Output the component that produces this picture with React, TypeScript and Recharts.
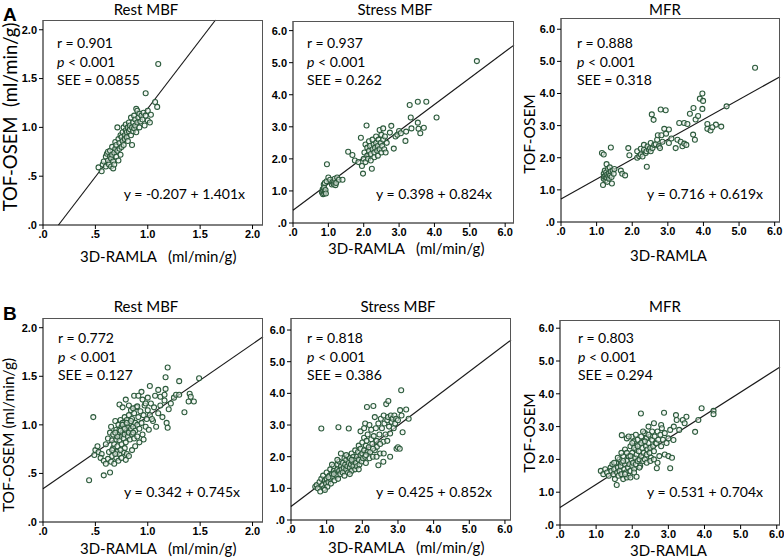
import React from 'react';
import { ScatterChart, Scatter, XAxis, YAxis, ReferenceLine } from 'recharts';

// [3D-RAMLA, TOF-OSEM] pairs
const restA: [number, number][] = [
  [0.53,0.59],[0.56,0.55],[0.57,0.62],[0.58,0.65],[0.6,0.6],[0.6,0.7],[0.61,0.73],[0.62,0.66],[0.62,0.75],[0.63,0.62],
  [0.64,0.7],[0.64,0.76],[0.65,0.68],[0.65,0.6],[0.66,0.72],[0.66,0.8],[0.67,0.65],[0.67,0.58],[0.68,0.74],[0.68,0.62],
  [0.69,0.78],[0.69,0.85],[0.7,0.7],[0.7,0.82],[0.71,1.0],[0.71,0.76],[0.72,0.88],[0.72,0.66],[0.73,0.78],[0.73,0.84],
  [0.74,0.92],[0.74,0.72],[0.75,0.8],[0.75,0.9],[0.76,0.86],[0.76,0.95],[0.77,0.82],[0.77,1.0],[0.78,0.92],[0.78,0.88],
  [0.79,0.97],[0.79,1.03],[0.8,0.9],[0.8,0.95],[0.81,1.0],[0.81,0.86],[0.82,1.05],[0.82,0.96],[0.83,0.98],[0.83,1.02],
  [0.84,0.92],[0.84,1.1],[0.85,0.82],[0.85,1.0],[0.86,1.05],[0.86,0.96],[0.87,1.12],[0.87,0.99],[0.88,1.02],[0.88,1.08],
  [0.89,1.19],[0.89,0.95],[0.9,1.17],[0.9,1.05],[0.91,1.1],[0.92,1.0],[0.92,1.14],[0.93,1.06],[0.94,1.12],[0.95,1.08],
  [0.96,1.15],[0.97,1.02],[0.98,1.35],[0.98,1.12],[1.0,1.07],[1.0,1.17],[1.02,1.05],[1.03,1.13],[1.07,1.26],[1.09,1.21],
  [1.10,1.65],
];

const stressA: [number, number][] = [
  [0.82,0.95],[0.84,1.05],[0.85,0.9],[0.86,1.0],[0.87,1.2],[0.88,0.92],[0.88,1.1],[0.9,0.98],[0.9,1.25],[0.92,1.03],
  [0.93,0.92],[0.95,1.3],[0.96,1.83],[1.0,1.42],[1.05,1.35],[1.1,1.2],[1.12,1.28],[1.15,1.22],[1.17,1.3],[1.18,1.38],
  [1.2,1.18],[1.22,1.25],[1.25,1.42],[1.3,1.35],[1.4,1.35],[1.56,2.22],[1.68,2.12],[1.75,1.95],[1.85,1.9],[1.92,2.66],
  [1.95,1.78],[1.98,1.54],[2.0,2.0],[2.02,2.2],[2.05,1.9],[2.05,2.45],[2.08,3.04],[2.1,2.1],[2.1,2.35],[2.12,2.0],
  [2.15,2.25],[2.15,2.55],[2.18,2.4],[2.2,2.15],[2.2,1.95],[2.23,1.69],[2.25,2.3],[2.25,2.6],[2.28,2.45],[2.3,2.2],
  [2.3,2.05],[2.32,2.35],[2.35,2.5],[2.35,2.7],[2.38,2.25],[2.4,2.4],[2.4,2.1],[2.42,2.6],[2.45,2.3],[2.45,2.9],
  [2.48,2.5],[2.5,2.2],[2.5,2.75],[2.52,2.4],[2.55,2.6],[2.55,2.95],[2.58,2.3],[2.6,2.7],[2.62,2.2],[2.65,2.5],
  [2.74,2.82],[2.78,3.03],[2.85,2.32],[2.9,2.7],[2.95,2.75],[3.0,2.87],[3.05,2.8],[3.18,2.56],[3.2,2.85],[3.3,3.68],
  [3.33,3.29],[3.35,2.95],[3.53,3.13],[3.53,3.78],[3.55,2.94],[3.6,2.8],[3.7,2.97],[3.77,3.78],[4.06,3.29],[5.2,5.05],
];

const mfrA: [number, number][] = [
  [1.15,2.15],[1.2,2.1],[1.18,1.15],[1.2,1.35],[1.2,1.5],[1.22,1.42],[1.23,1.6],[1.25,1.3],[1.25,1.45],[1.27,1.55],
  [1.28,1.38],[1.28,1.8],[1.3,1.48],[1.3,1.25],[1.32,1.65],[1.33,1.42],[1.35,1.52],[1.35,1.35],[1.37,1.7],[1.38,1.45],
  [1.4,1.58],[1.4,2.32],[1.42,1.4],[1.43,1.2],[1.45,1.6],[1.48,1.5],[1.5,1.65],[1.68,1.6],[1.72,1.5],[1.8,1.45],
  [1.89,2.3],[1.92,2.08],[2.14,2.2],[2.14,2.0],[2.2,2.05],[2.24,2.28],[2.24,2.1],[2.29,2.04],[2.33,2.4],[2.33,2.25],
  [2.38,2.15],[2.4,2.2],[2.41,1.72],[2.43,2.35],[2.47,2.25],[2.5,2.3],[2.52,2.46],[2.52,2.2],[2.55,3.35],[2.57,2.3],
  [2.6,3.18],[2.62,2.4],[2.66,2.42],[2.7,2.56],[2.72,2.7],[2.75,2.36],[2.78,2.3],[2.8,3.5],[2.82,2.7],[2.85,2.5],
  [2.9,2.9],[2.94,3.48],[2.95,2.75],[3.03,2.88],[3.03,2.46],[3.1,2.6],[3.22,2.3],[3.27,2.56],[3.32,3.08],[3.36,2.5],
  [3.41,2.36],[3.46,3.08],[3.46,2.44],[3.52,2.4],[3.55,3.05],[3.62,3.37],[3.71,2.72],[3.72,3.55],[3.76,2.56],[3.78,3.19],
  [3.85,3.3],[3.9,3.84],[3.97,4.0],[3.97,3.52],[3.99,3.77],[4.11,3.05],[4.11,2.9],[4.2,2.85],[4.35,3.03],[4.25,2.95],
  [4.5,2.97],[4.65,3.6],[5.45,4.8],
];

const restB: [number, number][] = [
  [0.44,0.43],[0.58,0.48],[0.64,0.51],[0.48,1.08],[0.5,0.74],[0.53,0.72],[0.49,0.69],[0.56,0.7],[0.55,0.66],[0.52,0.78],
  [0.58,0.63],[0.6,0.6],[0.62,0.65],[0.63,0.72],[0.65,0.62],[0.66,0.68],[0.67,0.76],[0.68,0.6],[0.7,0.66],[0.71,0.72],
  [0.72,0.63],[0.73,0.7],[0.75,0.66],[0.77,0.72],[0.79,0.64],[0.8,0.7],[0.82,0.68],[0.85,0.74],[0.6,0.8],[0.62,0.86],
  [0.64,0.92],[0.65,0.98],[0.66,0.84],[0.67,0.9],[0.68,0.8],[0.69,1.04],[0.7,0.85],[0.7,0.95],[0.71,0.78],[0.72,0.9],
  [0.72,1.0],[0.73,0.84],[0.73,0.95],[0.74,1.05],[0.74,0.88],[0.75,0.8],[0.75,0.98],[0.76,0.92],[0.76,1.02],[0.77,0.86],
  [0.77,0.96],[0.78,1.08],[0.78,0.9],[0.79,0.82],[0.79,1.0],[0.8,0.94],[0.8,1.05],[0.81,0.88],[0.81,0.98],[0.82,1.1],
  [0.82,0.92],[0.83,0.85],[0.83,1.02],[0.84,0.96],[0.84,1.15],[0.85,0.9],[0.85,1.06],[0.86,0.98],[0.87,1.12],[0.87,0.86],
  [0.88,1.02],[0.88,0.94],[0.89,1.18],[0.9,1.0],[0.9,0.88],[0.91,1.08],[0.92,0.96],[0.93,1.14],[0.94,1.02],[0.95,0.9],
  [0.96,1.1],[0.97,1.2],[0.98,0.98],[0.99,1.06],[1.0,1.15],[1.01,0.95],[1.02,1.1],[1.03,1.22],[1.05,1.04],[1.06,1.18],
  [1.08,0.98],[1.1,1.12],[1.12,1.2],[1.14,1.08],[1.16,1.25],[1.18,1.02],[1.19,0.97],[1.2,1.16],[1.22,1.22],[1.25,1.28],
  [1.27,1.31],[1.3,1.31],[1.35,1.13],[1.39,1.24],[1.4,1.32],[1.41,1.29],[1.44,1.24],[1.49,1.48],[1.3,1.45],[1.17,1.49],
  [1.19,1.59],[1.02,1.4],[1.1,1.36],[1.17,1.37],[1.07,1.3],[1.12,1.29],[1.16,1.31],[0.94,1.34],[0.87,1.3],[0.91,1.3],
  [0.79,1.26],[0.73,1.21],[0.76,1.18],[0.82,1.2],[0.86,1.17],[0.9,1.19],[0.95,1.26],[1.0,1.28],[0.98,1.22],[1.04,1.06],
  [0.96,0.85],[0.92,0.82],[0.88,0.78],[0.78,0.76],[0.74,0.74],[0.69,0.7],[0.66,0.74],[0.76,1.0],[0.8,1.02],[0.84,1.04],
  [0.86,0.92],[0.78,0.96],[0.74,0.94],[0.71,0.88],[0.69,0.92],
];

const stressB: [number, number][] = [
  [0.68,1.05],[0.72,1.1],[0.75,1.0],[0.8,1.2],[0.82,0.9],[0.85,1.3],[0.88,1.1],[0.9,1.4],[0.92,1.0],[0.95,1.25],
  [0.98,1.15],[1.0,1.5],[1.0,1.3],[1.02,1.05],[1.05,1.2],[1.08,1.4],[1.1,1.6],[1.1,1.3],[1.12,1.15],[1.15,1.45],
  [1.18,1.35],[1.2,1.7],[1.2,1.55],[1.22,1.25],[1.25,1.5],[1.28,1.4],[1.3,1.75],[1.3,1.6],[1.32,1.3],[1.35,1.55],
  [1.35,1.85],[1.38,1.45],[1.4,1.7],[1.4,2.1],[1.42,1.6],[1.45,1.5],[1.45,1.8],[1.48,1.65],[1.5,1.95],[1.5,1.4],
  [1.52,1.75],[1.55,1.6],[1.55,1.9],[1.58,1.7],[1.6,2.0],[1.6,1.5],[1.62,1.8],[1.65,1.65],[1.65,1.95],[1.68,1.75],
  [1.7,2.1],[1.7,1.55],[1.72,1.85],[1.75,1.7],[1.75,2.0],[1.78,1.9],[1.8,2.2],[1.8,1.6],[1.82,1.8],[1.85,2.0],
  [1.85,1.7],[1.88,2.15],[1.9,1.9],[1.9,2.35],[1.92,1.75],[1.95,2.05],[1.95,2.25],[1.98,1.85],[2.0,2.1],[2.0,2.45],
  [2.02,1.95],[2.05,2.2],[2.05,2.6],[2.08,2.0],[2.1,2.35],[2.1,1.8],[2.12,2.5],[2.15,2.15],[2.15,2.7],[2.18,2.3],
  [2.2,1.95],[2.22,2.15],[2.25,2.55],[2.25,2.85],[2.28,2.4],[2.3,2.0],[2.32,2.65],[2.35,2.2],[2.38,2.9],[2.4,2.5],
  [2.41,2.31],[2.45,1.73],[2.45,3.05],[2.48,2.7],[2.5,2.1],[2.52,3.2],[2.55,2.9],[2.59,2.47],[2.59,1.84],[2.6,3.3],
  [2.62,3.05],[2.65,2.7],[2.67,3.66],[2.7,3.15],[2.72,3.25],[2.73,3.76],[2.75,2.95],[2.78,2.73],[2.78,2.0],[2.8,3.3],
  [2.82,3.1],[2.85,3.2],[2.88,2.9],[2.9,3.3],[2.92,3.05],[2.95,3.2],[2.96,2.25],[3.0,2.3],[3.0,3.15],[3.05,2.25],
  [3.06,3.47],[3.09,4.1],[3.1,3.3],[3.13,2.77],[3.23,3.49],[3.3,3.2],[0.85,2.89],[1.33,2.93],[1.62,2.89],[2.13,3.57],
  [2.31,3.6],[2.08,3.05],[2.2,3.0],[2.35,3.25],[1.95,2.8],[2.05,2.9],[1.3,1.9],[1.15,1.75],[1.05,1.35],[0.95,0.95],
  [1.2,1.45],[1.55,2.05],[1.7,1.9],[1.65,1.45],[1.9,1.6],[2.1,2.05],[2.3,2.25],[2.5,2.4],[2.7,2.5],[2.6,2.1],
  [2.4,2.0],
];

const mfrB: [number, number][] = [
  [1.13,1.65],[1.2,1.55],[1.25,1.7],[1.3,1.6],[1.35,1.5],[1.4,1.75],[1.42,1.65],[1.45,1.85],[1.48,1.55],[1.5,1.7],
  [1.52,1.4],[1.55,1.9],[1.57,1.22],[1.58,1.6],[1.6,1.75],[1.62,1.5],[1.65,2.0],[1.65,1.65],[1.68,1.8],[1.7,1.55],
  [1.71,2.74],[1.72,1.9],[1.75,1.4],[1.75,2.1],[1.78,1.7],[1.8,1.85],[1.8,2.3],[1.82,1.6],[1.85,2.64],[1.85,1.95],
  [1.88,1.75],[1.9,2.1],[1.9,1.5],[1.92,1.85],[1.95,2.4],[1.95,1.65],[1.98,2.0],[1.99,2.69],[2.0,1.8],[2.0,2.2],
  [2.02,1.9],[2.05,2.55],[2.05,1.7],[2.08,2.05],[2.1,2.3],[2.1,1.85],[2.12,1.47],[2.12,2.15],[2.15,1.95],[2.15,2.6],
  [2.18,2.25],[2.2,2.0],[2.2,2.45],[2.22,1.8],[2.24,3.4],[2.25,2.1],[2.25,2.7],[2.28,2.35],[2.3,1.95],[2.3,2.55],
  [2.32,2.2],[2.35,2.8],[2.35,2.0],[2.38,2.4],[2.4,2.15],[2.4,2.65],[2.42,2.3],[2.45,3.0],[2.45,2.5],[2.48,2.2],
  [2.5,2.7],[2.5,2.35],[2.52,2.05],[2.55,2.6],[2.55,2.85],[2.58,2.4],[2.6,3.1],[2.6,2.25],[2.62,2.7],[2.65,2.5],
  [2.67,2.49],[2.68,1.73],[2.7,2.85],[2.72,2.6],[2.75,2.1],[2.78,2.75],[2.8,3.05],[2.8,2.4],[2.82,2.95],[2.85,2.6],
  [2.88,3.42],[2.9,2.15],[2.9,2.8],[2.95,2.5],[3.0,2.64],[3.0,2.1],[3.05,1.73],[3.05,2.9],[3.1,2.05],[3.14,2.59],
  [3.15,3.0],[3.21,3.35],[3.23,3.2],[3.3,2.9],[3.4,3.2],[3.45,3.1],[3.5,3.3],[3.74,2.84],[3.83,3.2],[3.92,3.56],
  [4.25,3.48],[4.25,3.38],[1.5,1.9],[1.6,2.05],[1.7,2.2],[1.75,1.95],[1.85,2.2],[1.95,2.1],[2.05,2.35],[2.15,2.4],
  [2.25,2.5],[2.35,2.55],[2.45,2.75],[2.0,2.5],[1.9,2.7],[2.1,2.75],[2.3,2.85],[2.2,1.75],[2.4,1.9],[2.5,1.95],
  [2.7,1.9],[2.6,2.0],[1.85,1.45],[1.95,1.45],[2.05,1.6],[1.8,1.55],
];

const ticksMBF = [0, 0.5, 1, 1.5, 2];
const ticksMFR = [0, 1, 2, 3, 4, 5, 6];

const FONT = "Lato, 'Open Sans', sans-serif";
const fmt = (v: number) => v.toFixed(1).replace(/^0\./, '.');
const tickStyle = { fontSize: 11, fontWeight: 700, fill: '#000', fontFamily: "'Liberation Sans', Arial, sans-serif" };

const Ring = (props: any) => (
  <circle cx={props.cx} cy={props.cy} r={2.5} fill="#eef4ee" fillOpacity={0.6} stroke="#2c5a3c" strokeWidth={1.1} />
);

const panels = [
  { id: 'a1', data: restA, a: -0.207, b: 1.401, r: '0.901', see: '0.0855', title: 'Rest MBF', box: [43, 20, 263, 225], xMax: 2.1, yMax: 2.1, ticks: ticksMBF,
    stats: [57, 43], eq: [245, 194], tl: [146, 9], xl: [80, 256, '3D-RAMLA   (ml/min/g)'], yl: [10, 117, 'TOF-OSEM  (ml/min/g)', 18.5] },
  { id: 'a2', data: stressA, a: 0.398, b: 0.824, r: '0.937', see: '0.262', title: 'Stress MBF', box: [293, 21, 514, 223], xMax: 6.25, yMax: 6.3, ticks: ticksMFR,
    stats: [307, 43], eq: [492, 194], tl: [395, 9], xl: [328, 248, '3D-RAMLA   (ml/min/g)'], yl: null },
  { id: 'a3', data: mfrA, a: 0.716, b: 0.619, r: '0.888', see: '0.318', title: 'MFR', box: [561, 18, 780, 222], xMax: 6.15, yMax: 6.35, ticks: ticksMFR,
    stats: [577, 43], eq: [763, 194], tl: [665, 9], xl: [630, 255, '3D-RAMLA'], yl: [530, 134, 'TOF-OSEM', 15.5] },
  { id: 'b1', data: restB, a: 0.342, b: 0.745, r: '0.772', see: '0.127', title: 'Rest MBF', box: [43, 318, 263, 522], xMax: 2.1, yMax: 2.1, ticks: ticksMBF,
    stats: [58, 338], eq: [240, 492], tl: [146, 306], xl: [80, 548, '3D-RAMLA   (ml/min/g)'], yl: [9, 435, 'TOF-OSEM (ml/min/g)', 15.5] },
  { id: 'b2', data: stressB, a: 0.425, b: 0.852, r: '0.818', see: '0.386', title: 'Stress MBF', box: [291, 318, 511, 520], xMax: 6.17, yMax: 6.38, ticks: ticksMFR,
    stats: [307, 338], eq: [492, 492], tl: [398, 306], xl: [328, 547, '3D-RAMLA   (ml/min/g)'], yl: null },
  { id: 'b3', data: mfrB, a: 0.531, b: 0.704, r: '0.803', see: '0.294', title: 'MFR', box: [560, 320, 780, 525], xMax: 6.09, yMax: 6.25, ticks: ticksMFR,
    stats: [578, 338], eq: [763, 492], tl: [665, 306], xl: [630, 550, '3D-RAMLA'], yl: [530, 433, 'TOF-OSEM', 15.5] },
];

const abs = (x: number, y: number, extra: React.CSSProperties = {}): React.CSSProperties => ({
  position: 'absolute', left: x, top: y, lineHeight: 1, whiteSpace: 'pre', fontFamily: FONT, color: '#000', ...extra,
});

function Panel({ p }: { p: any }) {
  const [l, t, r, b] = p.box;
  const w = r - l;
  const h = b - t;
  const x0 = Math.max(0, -p.a / p.b);
  const x1 = Math.min(p.xMax, (p.yMax - p.a) / p.b);
  const pts = p.data.map(([x, y]: [number, number]) => ({ x, y }));
  return (
    <>
      <div style={{ position: 'absolute', left: l - 40, top: t - 10 }}>
        <ScatterChart width={w + 50} height={h + 30} margin={{ top: 10, right: 10, bottom: 0, left: 0 }}>
          <XAxis type="number" dataKey="x" domain={[0, p.xMax]} ticks={p.ticks} tickFormatter={fmt} interval={0}
            height={20} tickSize={4} tickMargin={1} allowDataOverflow stroke="#000" tick={tickStyle} />
          <YAxis type="number" dataKey="y" domain={[0, p.yMax]} ticks={p.ticks} tickFormatter={fmt} interval={0}
            width={40} tickSize={4} allowDataOverflow stroke="#000" tick={tickStyle} />
          <Scatter data={pts} shape={Ring} isAnimationActive={false} />
          <ReferenceLine segment={[{ x: x0, y: p.a + p.b * x0 }, { x: x1, y: p.a + p.b * x1 }]} stroke="#1a1a1a" strokeWidth={1.2} />
        </ScatterChart>
      </div>
      <div style={{ position: 'absolute', left: l, top: t, width: w, height: h, boxSizing: 'border-box',
        borderTop: '1px solid #555', borderRight: '1px solid #555', pointerEvents: 'none' }} />
      <div style={abs(p.tl[0], p.tl[1], { fontSize: 15, transform: 'translate(-50%,-50%)' })}>{p.title}</div>
      <div style={abs(p.stats[0], p.stats[1], { fontSize: 14, transform: 'translateY(-50%)' })}>r = {p.r}</div>
      <div style={abs(p.stats[0], p.stats[1] + 18.5, { fontSize: 14, transform: 'translateY(-50%)' })}><i>p</i> &lt; 0.001</div>
      <div style={abs(p.stats[0], p.stats[1] + 37, { fontSize: 14, transform: 'translateY(-50%)' })}>SEE = {p.see}</div>
      <div style={abs(p.eq[0], p.eq[1], { fontSize: 14, transform: 'translate(-100%,-50%)' })}>
        y = {p.a} + {p.b.toFixed(3)}x
      </div>
      <div style={abs(p.xl[0], p.xl[1], { fontSize: 15, transform: 'translateY(-50%)' })}>{p.xl[2]}</div>
      {p.yl && (
        <div style={abs(p.yl[0], p.yl[1], { fontSize: p.yl[3], transform: 'translate(-50%,-50%) rotate(-90deg)' })}>{p.yl[2]}</div>
      )}
    </>
  );
}

export default function App() {
  return (
    <div style={{ position: 'absolute', left: 0, top: 0, width: 784, height: 560, background: '#fff', overflow: 'hidden' }}>
      <div style={abs(3, 13.5, { fontSize: 19, fontWeight: 700, fontFamily: "'Liberation Sans', Arial, sans-serif", transform: 'translateY(-50%)' })}>A</div>
      <div style={abs(3, 313, { fontSize: 19, fontWeight: 700, fontFamily: "'Liberation Sans', Arial, sans-serif", transform: 'translateY(-50%)' })}>B</div>
      {panels.map((p) => <Panel key={p.id} p={p} />)}
    </div>
  );
}
